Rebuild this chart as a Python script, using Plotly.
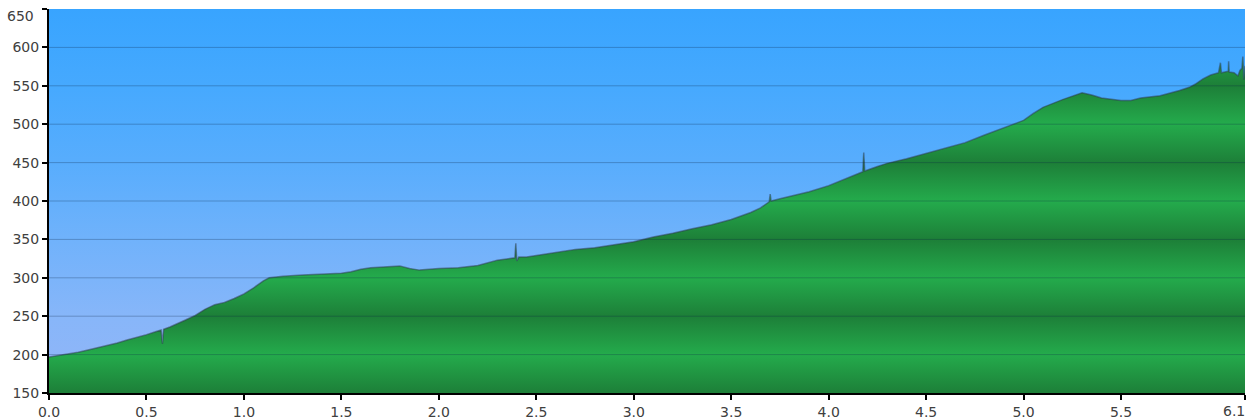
import plotly.graph_objects as go

# ---- data ----
distance = [0.00, 0.05, 0.10, 0.15, 0.20, 0.25, 0.30, 0.35, 0.40, 0.45, 0.50, 0.55,
            0.575, 0.582, 0.588, 0.62, 0.65, 0.70, 0.75, 0.80, 0.85, 0.90, 0.95, 1.00,
            1.05, 1.10, 1.13, 1.20, 1.30, 1.40, 1.50, 1.55, 1.60, 1.65, 1.70, 1.75,
            1.80, 1.85, 1.90, 1.95, 2.00, 2.10, 2.20, 2.30, 2.35, 2.39, 2.395, 2.40,
            2.41, 2.45, 2.50, 2.60, 2.70, 2.80, 2.90, 3.00, 3.10, 3.20, 3.30, 3.40,
            3.50, 3.60, 3.65, 3.695, 3.70, 3.705, 3.75, 3.80, 3.90, 4.00, 4.10, 4.15,
            4.175, 4.18, 4.185, 4.25, 4.30, 4.40, 4.50, 4.60, 4.70, 4.80, 4.90, 5.00,
            5.05, 5.10, 5.20, 5.25, 5.30, 5.35, 5.40, 5.50, 5.55, 5.60, 5.70, 5.80,
            5.85, 5.88, 5.92, 5.96, 6.00, 6.01, 6.015, 6.05, 6.052, 6.055, 6.08, 6.10,
            6.11, 6.12, 6.125, 6.13, 6.136]
elevation = [197, 199, 201, 203, 206, 209, 212, 215, 219, 222, 226, 230,
             232, 214, 233, 236, 239, 245, 251, 259, 265, 268, 273, 279,
             287, 296, 300, 302, 303.5, 304.5, 306, 308, 311, 313, 314, 314.5,
             315.5, 312, 310, 311, 312, 313, 316, 323, 325, 326, 345, 322,
             327, 327, 329, 333, 337, 339, 343, 347, 353, 358, 364, 369,
             376, 385, 391, 399, 409, 400, 403, 406, 412, 420, 430, 436,
             438, 463, 439, 445, 449, 455, 462, 469, 476, 486, 496, 505,
             514, 522, 532, 537, 541, 538, 534, 531, 531, 534, 537, 544,
             548, 552, 559, 564, 567, 580, 567, 569, 582, 568, 567, 563,
             570, 573, 588, 558, 576]

y_ticks = [150, 200, 250, 300, 350, 400, 450, 500, 550, 600, 650]
y_ticktext = ["150", "200", "250", "300", "350", "400", "450", "500", "550", "600", "650"]
x_tickvals = [0.0, 0.5, 1.0, 1.5, 2.0, 2.5, 3.0, 3.5, 4.0, 4.5, 5.0, 5.5, 6.136]
x_ticktext = ["0.0", "0.5", "1.0", "1.5", "2.0", "2.5", "3.0", "3.5", "4.0", "4.5", "5.0", "5.5", "6.1"]

y_min, y_max = y_ticks[0], y_ticks[-1]
x_min, x_max = distance[0], distance[-1]

# ---- styles ----
sky_scale = [[0.0, "#93b5f7"], [0.2, "#87b6f9"], [0.4, "#70b2fb"],
             [0.6, "#58adfd"], [0.8, "#46a9fe"], [1.0, "#38a4ff"]]
dark_g, light_g = "#1d7f38", "#24ab4c"
n_bands = len(y_ticks) - 1
ground_scale = [[i / n_bands, dark_g if i % 2 == 0 else light_g] for i in range(n_bands + 1)]

fig = go.Figure()

# sky background (plot area)
fig.add_trace(go.Scatter(
    x=[x_min, x_max, x_max, x_min, x_min],
    y=[y_max, y_max, y_min, y_min, y_max],
    mode="lines", line=dict(width=0), fill="toself",
    fillgradient=dict(type="vertical", colorscale=sky_scale, start=y_min, stop=y_max),
    hoverinfo="skip", showlegend=False,
))

# elevation profile
fig.add_trace(go.Scatter(
    x=distance, y=elevation, mode="lines",
    line=dict(color="rgba(45,55,80,0.5)", width=1.5),
    fill="tozeroy",
    fillgradient=dict(type="vertical", colorscale=ground_scale, start=y_min, stop=y_max),
    hoverinfo="skip", showlegend=False,
))

# gridlines drawn above the fills
for v in y_ticks[1:-1]:
    fig.add_shape(type="line", xref="paper", x0=0, x1=1, yref="y", y0=v, y1=v,
                  line=dict(color="rgba(10,35,70,0.28)", width=1), layer="above")

font = dict(family="DejaVu Sans, Verdana, sans-serif", size=14, color="#404040")

# edge labels kept inside the figure
fig.add_annotation(x=x_tickvals[-1], y=0, xref="x", yref="paper",
                   text=x_ticktext[-1], showarrow=False, xanchor="right", yanchor="top",
                   yshift=-8, xshift=2, font=font)
fig.add_annotation(x=0, y=y_ticks[-1], xref="paper", yref="y",
                   text=y_ticktext[-1], showarrow=False, xanchor="right", yanchor="top",
                   xshift=-13, yshift=3, font=font)

fig.update_layout(
    width=1250, height=419,
    margin=dict(l=49, r=5, t=9, b=26, pad=0),
    paper_bgcolor="white", plot_bgcolor="white",
    showlegend=False,
    xaxis=dict(range=[x_min, x_max], tickvals=x_tickvals,
               ticktext=x_ticktext[:-1] + [""], automargin=False,
               showgrid=False, zeroline=False, showline=True, linecolor="black",
               linewidth=1.5, ticks="outside", ticklen=5, tickcolor="black",
               tickwidth=1.5, tickfont=font, layer="above traces"),
    yaxis=dict(range=[y_min, y_max], tickvals=y_ticks,
               ticktext=y_ticktext[:-1] + [""], automargin=False,
               showgrid=False, zeroline=False, showline=True, linecolor="black",
               linewidth=2, ticks="outside", ticklen=5, tickcolor="black",
               tickwidth=1.5, tickfont=font, layer="above traces"),
)

fig.write_html("out.html", config={"displayModeBar": False},
               post_script="document.body.style.margin='0';document.body.style.overflow='hidden';")
